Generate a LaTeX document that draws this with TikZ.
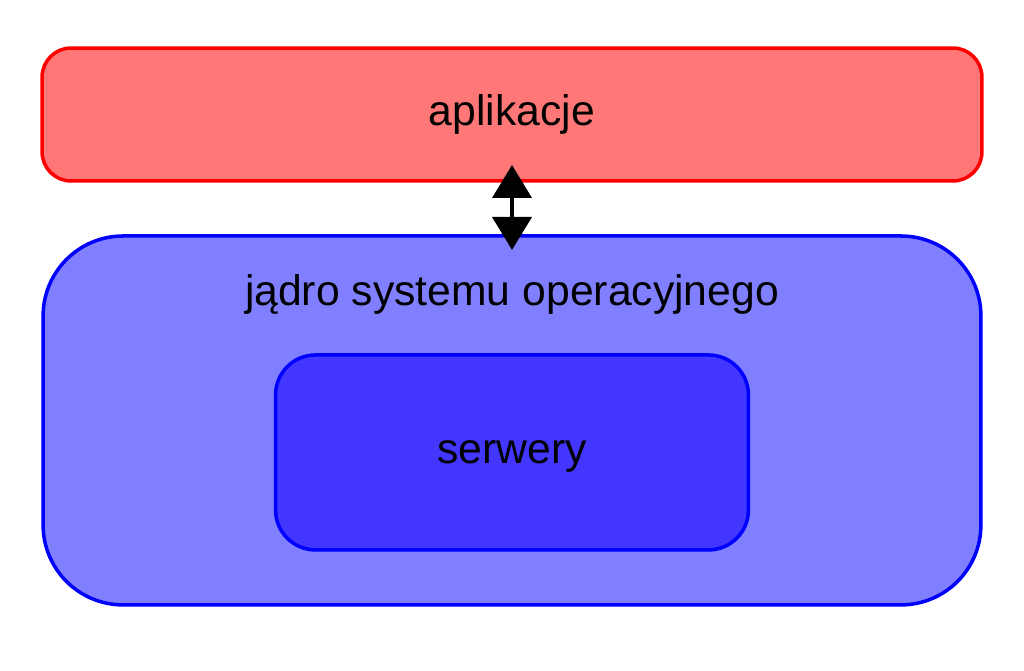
\documentclass[tikz,border=0pt]{standalone}
\usepackage{fontspec}
\setmainfont{Liberation Sans}
\usepackage{xcolor}
\usetikzlibrary{arrows.meta,positioning}

\definecolor{appfill}{RGB}{255,119,119}
\definecolor{kernelfill}{RGB}{127,127,255}
\definecolor{serverfill}{RGB}{66,54,255}

\begin{document}
\begin{tikzpicture}[
    x=0.02cm, y=-0.02cm,
    box/.style={rectangle, draw, line width=2pt, outer sep=0pt, align=center, text height=0.6cm, text depth=0.16cm, font=\fontsize{24.3}{28}\selectfont},
    appbox/.style={box, draw=red, fill=appfill, rounded corners=0.58cm, minimum width=18.8cm, minimum height=2.66cm},
    kernelbox/.style={box, draw=blue, fill=kernelfill, rounded corners=1.6cm, minimum width=18.76cm, minimum height=7.38cm},
    serverbox/.style={box, draw=blue, fill=serverfill, rounded corners=0.8cm, minimum width=9.46cm, minimum height=3.9cm},
    title/.style={inner sep=0pt, text height=0.56cm, text depth=0.16cm, font=\fontsize{24.3}{28}\selectfont},
    arrow/.style={{Triangle[length=0.66cm,width=0.78cm]}-{Triangle[length=0.66cm,width=0.78cm]}, line width=0.08cm}
]
\useasboundingbox (0,0) rectangle (1024,670);
\node[appbox] (app) at (512,114.5) {aplikacje};
\node[kernelbox, below=1.1cm of app] (kernel) {};
\node[title, below=1.2cm of kernel.north, anchor=center] (kerneltitle) {jądro systemu operacyjnego};
\node[serverbox, below=2.38cm of kernel.north] (servers) {serwery};

\draw[arrow] ([yshift=0.32cm]app.south) -- ([yshift=-0.28cm]kernel.north);
\end{tikzpicture}
\end{document}
